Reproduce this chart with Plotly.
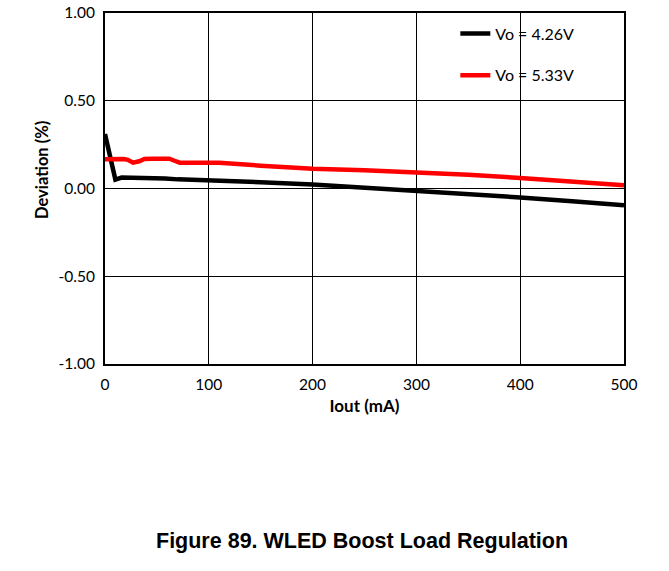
import plotly.graph_objects as go

iout_black = [0, 10, 16, 30, 45, 58, 70, 100, 150, 200, 250, 300, 350, 400, 450, 500]
dev_black = [0.31, 0.051, 0.062, 0.062, 0.058, 0.057, 0.052, 0.047, 0.036, 0.023, 0.006, -0.013, -0.031, -0.051, -0.072, -0.096]

iout_red = [0, 10, 18, 22, 27, 33, 38, 45, 55, 62, 67, 72, 100, 110, 150, 200, 250, 300, 350, 400, 450, 500]
dev_red = [0.166, 0.168, 0.168, 0.163, 0.147, 0.155, 0.168, 0.17, 0.168, 0.17, 0.158, 0.147, 0.147, 0.147, 0.13, 0.113, 0.104, 0.094, 0.078, 0.06, 0.04, 0.019]

series_names = ["Vo = 4.26V", "Vo = 5.33V"]
x_ticks = [0, 100, 200, 300, 400, 500]
y_ticks = [-1.0, -0.5, 0.0, 0.5, 1.0]
y_tick_labels = ["-1.00", "-0.50", "0.00", "0.50", "1.00"]

font_main = "Lato, Open Sans, sans-serif"

fig = go.Figure()
fig.add_trace(go.Scatter(x=iout_black, y=dev_black, mode="lines", name=series_names[0],
                         legendgroup="a", line=dict(color="#000000", width=4.5)))
fig.add_trace(go.Scatter(x=iout_red, y=dev_red, mode="lines", name=series_names[1],
                         legendgroup="b", line=dict(color="#ff0000", width=4.5)))

fig.add_shape(type="rect", xref="paper", yref="paper", x0=0.62, x1=0.995, y0=0.755, y1=0.995,
              fillcolor="white", line=dict(width=0), layer="between")

fig.update_layout(
    width=669, height=571,
    margin=dict(l=105, r=45, t=13, b=207),
    paper_bgcolor="white", plot_bgcolor="white",
    font=dict(family=font_main, size=15.5, color="#000000"),
    showlegend=True,
    legend=dict(x=0.675, y=0.99, xanchor="left", yanchor="top", bgcolor="rgba(0,0,0,0)",
                font=dict(size=16), itemwidth=30, tracegroupgap=18, traceorder="grouped"),
    xaxis=dict(range=[0, 500], tickvals=x_ticks, ticks="", showgrid=True, gridcolor="#000000",
               gridwidth=1, showline=True, linecolor="#000000", linewidth=2, mirror=True,
               zeroline=False, automargin=False, ticklabelstandoff=5,
               title=dict(text="<b>Iout (mA)</b>", font=dict(size=17), standoff=9),
               tickfont=dict(size=15.5)),
    yaxis=dict(range=[-1, 1], tickvals=y_ticks, ticktext=y_tick_labels, ticks="", showgrid=True,
               gridcolor="#000000", gridwidth=1, showline=True, linecolor="#000000", linewidth=2,
               mirror=True, zeroline=False, automargin=False, ticklabelstandoff=5,
               tickfont=dict(size=15.5)),
    annotations=[
        dict(text="<b>Deviation (%)</b>", xref="paper", yref="paper", x=-0.121, y=0.5535,
             xanchor="center", yanchor="middle", textangle=-90, showarrow=False,
             font=dict(size=16.5)),
        dict(text="<b>Figure 89. WLED Boost Load Regulation</b>", xref="paper", yref="paper",
             x=0.495, y=-0.505, xanchor="center", yanchor="middle", showarrow=False,
             font=dict(family="Liberation Sans, Arial, sans-serif", size=21.5)),
    ],
)

fig.write_html("out.html", config={"displayModeBar": False},
               post_script="document.body.style.margin='0';")
